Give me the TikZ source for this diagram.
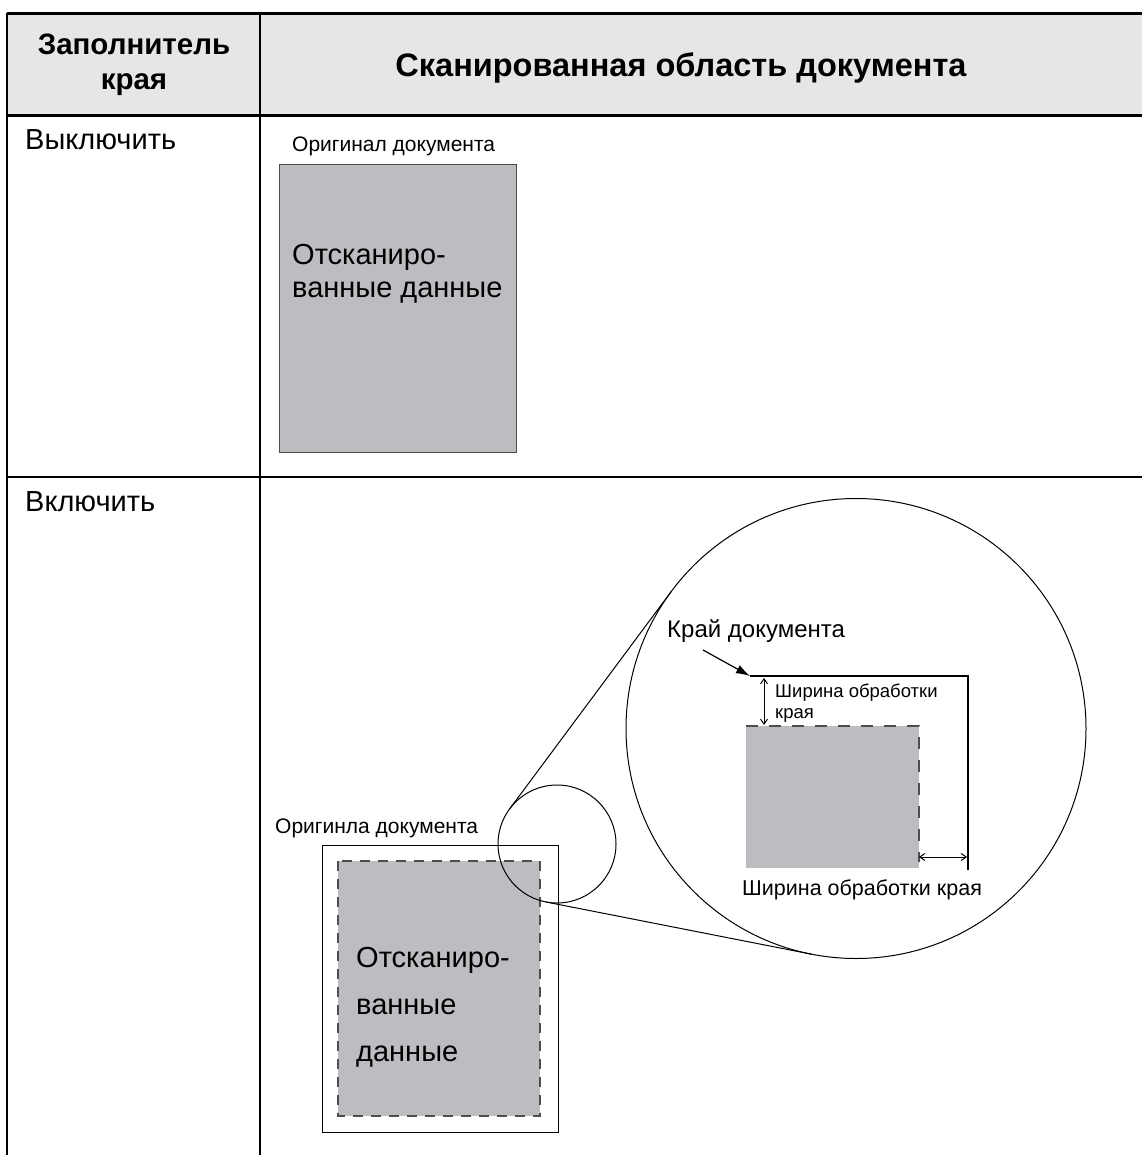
\documentclass[tikz,border=0pt]{standalone}
\usepackage{fontspec}
\setmainfont{Liberation Sans}
\usetikzlibrary{arrows.meta}
\definecolor{gris}{HTML}{BCBDC1}
\definecolor{cabecera}{HTML}{E6E6E6}
\definecolor{trazo}{HTML}{4D4D4D}

\begin{document}
\begin{tikzpicture}[
        x=1pt, y=-1pt,
        raya/.style={line width=2pt},
        rayagruesa/.style={line width=3pt},
        titulo/.style={font=\bfseries\fontsize{#1}{35}\selectfont, align=center, inner sep=0pt, anchor=base},
        fila/.style={font=\fontsize{29}{35}\selectfont, inner sep=0pt, anchor=base west},
        datos/.style={font=\fontsize{29}{#1}\selectfont, align=left, inner sep=0pt, anchor=base west},
        rotulo/.style={font=\fontsize{#1}{#1}\selectfont, inner sep=0pt, anchor=base west},
        hoja/.style={fill=gris},
        margen/.style={draw=trazo, line width=1.5pt, dash pattern=on 10pt off 8pt},
        lupa/.style={draw, line width=1pt},
        cota/.style={{Straight Barb[length=5pt,width=7pt]}-{Straight Barb[length=5pt,width=7pt]}, line width=1pt},
        flecha/.style={-{Latex[length=14pt,width=9pt]}, line width=1.2pt}
    ]
        \useasboundingbox (0,0) rectangle (1142,1155);

        % cabecera de la tabla
        \fill[cabecera] (7,14) rectangle (1142,116);
        \draw[rayagruesa] (7,14) -- (1142,14);
        \draw[rayagruesa] (7,116) -- (1142,116);
        \draw[raya] (7,477) -- (1142,477);
        \draw[raya] (7,13) -- (7,1155);
        \draw[raya] (260,13) -- (260,1155);

        \node[titulo=29.5] (colmodo) at (134,90) {Заполнитель\\края};
        \node[titulo=32.5] (colarea) at (681,77) {Сканированная область документа};

        \node[fila] (apagado) at (25,150) {Выключить};
        \node[fila] (encendido) at (25,511) {Включить};

        % fila 1: sin relleno
        \node[rotulo=21] (orig1) at (292,152) {Оригинал документа};
        \draw[hoja, draw=trazo, line width=0.8pt] (279,164) rectangle (516,452);
        \node[datos=33] (datos1) at (292,298) {Отсканиро-\\ванные данные};

        % fila 2: con relleno
        \node[rotulo=21] (orig2) at (275,833) {Оригинла документа};
        \draw[line width=1pt] (322,845) rectangle (558,1132);
        \fill[hoja] (338,861) rectangle (540,1116);
        \draw[margen] (338,861) rectangle (540,1116);
        \node[datos=47] (datos2) at (356,1061) {Отсканиро-\\ванные\\данные};

        % lupa sobre la esquina
        \coordinate (c1) at (557,844);
        \coordinate (c2) at (856,728.5);
        \draw[lupa] (c1) circle[radius=59];
        \draw[lupa] (c2) circle[radius=230];
        \coordinate (t1) at (509.7,808.8);
        \coordinate (t2) at (671.4,591.3);
        \coordinate (t3) at (545.6,901.9);
        \coordinate (t4) at (811.6,954.2);
        \draw[lupa] (t1) -- (t2);
        \draw[lupa] (t3) -- (t4);

        % detalle ampliado
        \fill[hoja] (746,726) rectangle (919,868);
        \draw[draw=trazo, line width=1.5pt, dash pattern=on 12pt off 11pt] (746,726) -- (919,726) -- (919,862);
        \coordinate (e1) at (750,676);
        \coordinate (e2) at (968,676);
        \coordinate (e3) at (968,870);
        \draw[line width=2.5pt] (e1) -- (e2) -- (e3);

        \node[rotulo=24] (borde) at (667,637) {Край документа};
        \coordinate (f0) at (703,650);
        \draw[flecha] (f0) -- (e1);

        \coordinate (v1) at (764,678);
        \coordinate (v2) at (764,725);
        \draw[cota] (v1) -- (v2);
        \node[datos=21, font=\fontsize{18.5}{21}\selectfont] (ancho1) at (775,718) {Ширина обработки\\края};

        \coordinate (h1) at (919,857);
        \coordinate (h2) at (967,857);
        \draw[cota] (h1) -- (h2);
        \node[rotulo=21.5] (ancho2) at (742,895) {Ширина обработки края};

    \end{tikzpicture}
\end{document}
